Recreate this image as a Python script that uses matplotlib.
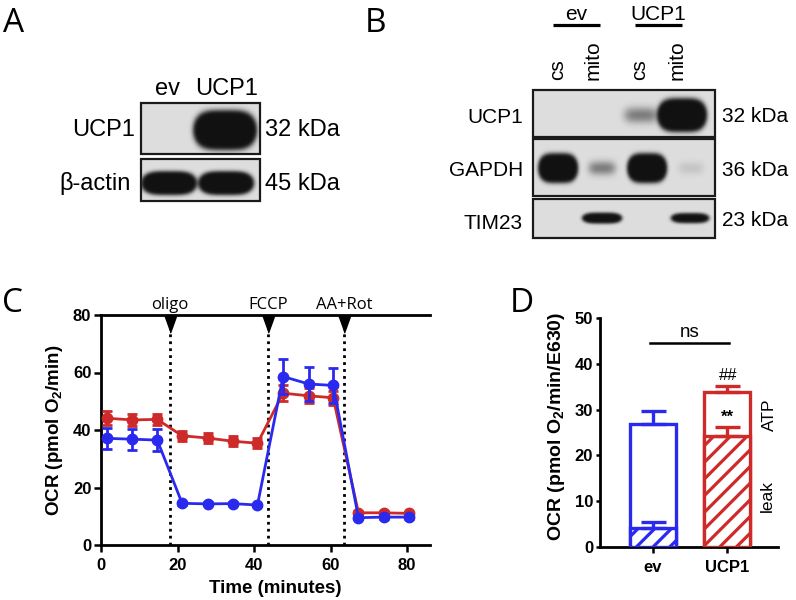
import numpy as np
import matplotlib
matplotlib.use('Agg')
import matplotlib.pyplot as plt
from matplotlib.patches import Rectangle

plt.rcParams['font.family'] = ['Liberation Sans', 'DejaVu Sans']
plt.rcParams['mathtext.fontset'] = 'custom'
plt.rcParams['mathtext.rm'] = 'Liberation Sans'
plt.rcParams['mathtext.bf'] = 'Liberation Sans:bold'
plt.rcParams['hatch.linewidth'] = 2.3

# blot band signals (relative, 1 = saturated)
a_lanes = ['ev', 'UCP1']
a_ucp1 = [0.0, 1.0]
a_actin = [1.0, 1.0]
b_groups = ['ev', 'UCP1']
b_lanes = ['cs', 'mito', 'cs', 'mito']
b_ucp1 = [0.0, 0.0, 0.003, 1.0]
b_gapdh = [1.0, 0.003, 1.0, 0.0006]
b_tim23 = [0.0, 1.0, 0.0, 0.4]

# panel C: OCR trace
time_min = [1.5, 8.2, 14.7, 21.2, 27.9, 34.4, 40.9, 47.6, 54.3, 60.7, 67.3, 73.9, 80.5]
ocr_ucp1 = [44.1, 43.5, 43.7, 38.0, 37.2, 36.1, 35.4, 52.8, 51.9, 51.2, 11.2, 11.2, 11.0]
err_ucp1 = [2.5, 2.0, 2.0, 1.8, 1.8, 1.8, 1.8, 2.8, 2.6, 2.5, 0.6, 0.6, 0.6]
ocr_ev = [37.1, 36.8, 36.5, 14.5, 14.3, 14.4, 13.9, 58.6, 56.0, 55.5, 9.5, 9.7, 9.7]
err_ev = [3.6, 3.6, 3.8, 0.6, 0.5, 0.5, 0.5, 6.0, 5.8, 6.0, 0.6, 0.5, 0.5]
injections = ['oligo', 'FCCP', 'AA+Rot']
inject_time = [18.1, 43.6, 63.5]

# panel D: leak / ATP-linked OCR
groups = ['ev', 'UCP1']
total_ocr = [26.8, 33.8]
total_err = [3.0, 1.4]
leak_ocr = [4.1, 24.3]
leak_err = [1.3, 1.8]

blue = '#2a2aef'
red = '#cf2a2a'
W, H = 796, 600

fig = plt.figure(figsize=(W / 100, H / 100), dpi=100)

# overlay in pixel coordinates for blots and labels
ov = fig.add_axes([0, 0, 1, 1])


def soften(img, sigma=2.0):
    # small gaussian blur so band edges look like film, not vector shapes
    k = np.arange(-3 * sigma, 3 * sigma + 0.5, 0.5)
    k = np.exp(-0.5 * (k / sigma) ** 2)
    k /= k.sum()
    pad = len(k) // 2
    p = np.pad(img, pad, mode='edge')
    p = np.apply_along_axis(lambda r: np.convolve(r, k, mode='same'), 0, p)
    p = np.apply_along_axis(lambda r: np.convolve(r, k, mode='same'), 1, p)
    return p[pad:-pad, pad:-pad]


def draw_blot(ax, box, lane_x, band_y, sx, sy, signals, gain=220):
    x0, y0, x1, y1 = box
    xs = np.arange(x0, x1, 0.5) + 0.25
    ys = np.arange(y0, y1, 0.5) + 0.25
    X, Y = np.meshgrid(xs, ys)
    dose = np.zeros_like(X)
    for cx, s in zip(lane_x, signals):
        dose += gain * s * np.exp(-0.5 * (np.abs(X - cx) / sx) ** 4) \
            * np.exp(-0.5 * ((Y - band_y) / sy) ** 2)
    dark = soften(1 - np.exp(-dose), 1.2)
    img = 0.87 - 0.8 * dark
    ax.imshow(img, cmap='gray', vmin=0, vmax=1, extent=(x0, x1, y1, y0),
              interpolation='bilinear', aspect='auto', zorder=1)
    ax.add_patch(Rectangle((x0, y0), x1 - x0, y1 - y0, fill=False,
                           ec='#1a1a1a', lw=1.6, zorder=2))


# panel A blots
draw_blot(ov, (141, 103, 260, 154), [168, 225], 130, 17.4, 5.9, a_ucp1)
draw_blot(ov, (141, 159, 260, 201), [169, 226], 183, 15.2, 3.5, a_actin)
# panel B blots
draw_blot(ov, (533, 90, 715, 137), [558, 600, 641, 682], 115, 13.6, 5.0, b_ucp1)
draw_blot(ov, (533, 139, 715, 196), [558, 602, 647, 691], 168, 10.9, 4.4, b_gapdh)
draw_blot(ov, (533, 199, 715, 238), [558, 602, 647, 690], 218, 10.9, 1.6, b_tim23)

ov.set_xlim(0, W)
ov.set_ylim(H, 0)
ov.axis('off')

letter_font = ['Open Sans', 'DejaVu Sans']
for lx, ly, s in [(3, 32, 'A'), (365, 32, 'B'), (2, 312, 'C'), (510, 312, 'D')]:
    ov.text(lx, ly, s, fontsize=24, family=letter_font, va='baseline', ha='left')

# panel A text
for lx, s in zip([167, 227], a_lanes):
    ov.text(lx, 95, s, fontsize=17, ha='center', va='baseline')
ov.text(135, 136.5, 'UCP1', fontsize=17, ha='right', va='baseline')
ov.text(131, 190, 'β-actin', fontsize=17, ha='right', va='baseline')
ov.text(265, 136.5, '32 kDa', fontsize=17, ha='left', va='baseline')
ov.text(265, 190, '45 kDa', fontsize=17, ha='left', va='baseline')

# panel B text
for gx, (l0, l1), s in zip([576, 658], [(553, 600), (635, 682)], b_groups):
    ov.text(gx, 20, s, fontsize=15, ha='center', va='baseline')
    ov.plot([l0, l1], [25, 25], color='k', lw=2.3, solid_capstyle='butt')
for lx, s in zip([558, 593, 640, 677], b_lanes):
    ov.text(lx, 80, s, fontsize=15, rotation=90, ha='center', va='bottom')
for ry, s in zip([123, 176, 229], ['UCP1', 'GAPDH', 'TIM23']):
    ov.text(523, ry, s, fontsize=15, ha='right', va='baseline')
for ry, s in zip([122, 176.5, 226], ['32 kDa', '36 kDa', '23 kDa']):
    ov.text(722, ry, s, fontsize=15, ha='left', va='baseline')

# panel C
axC = fig.add_axes([101 / W, 1 - 545 / H, 329 / W, 230 / H])
ebkw = dict(marker='o', ms=7.5, lw=2, elinewidth=2, capsize=3.5, capthick=2, clip_on=False)
axC.errorbar(time_min, ocr_ucp1, yerr=err_ucp1, color=red, zorder=3, **ebkw)
axC.errorbar(time_min, ocr_ev, yerr=err_ev, color=blue, zorder=4, **ebkw)
tri = [(-0.36, 0.5), (0.36, 0.5), (0, -0.5)]
for t, s in zip(inject_time, injections):
    axC.plot([t, t], [0, 76], color='k', lw=2, ls=(0, (1, 1.5)), zorder=2)
    axC.plot(t, 77, marker=tri, ms=12.5, color='k', clip_on=False, zorder=5)
    axC.text(t, 82.2, s, fontsize=12, family=letter_font, ha='center', va='baseline')
axC.set_xlim(0, 86)
axC.set_ylim(0, 80)
axC.set_xticks(range(0, 81, 20))
axC.set_yticks(range(0, 81, 20))
axC.spines['right'].set_visible(False)
for sp in ['left', 'bottom', 'top']:
    axC.spines[sp].set_linewidth(2)
axC.tick_params(direction='out', length=5, width=1.8, labelsize=12, pad=2)
axC.tick_params(axis='x', pad=4)
for lab in axC.get_xticklabels() + axC.get_yticklabels():
    lab.set_fontweight('bold')
axC.set_xlabel('Time (minutes)', fontsize=13.5, fontweight='bold', va='top')
axC.xaxis.set_label_coords(0.529, -0.152)
axC.set_ylabel(r'OCR (pmol O$_\mathbf{2}$/min)', fontsize=13.5, fontweight='bold')
axC.yaxis.set_label_coords(-0.109, 0.5)

# panel D
axD = fig.add_axes([600 / W, 1 - 547 / H, 178 / W, 229 / H])
x = np.arange(len(groups))
cols = [blue, red]
axD.bar(x, total_ocr, width=0.61, color='white', edgecolor=cols, linewidth=2.4, zorder=2)
axD.bar(x, leak_ocr, width=0.61, color='white', edgecolor=cols, hatch='//', linewidth=2.4, zorder=3)
for xi, t, te, lk, le, c in zip(x, total_ocr, total_err, leak_ocr, leak_err, cols):
    axD.errorbar(xi, t, yerr=[[0], [te]], color=c, capsize=9, elinewidth=2.4, capthick=2.4, zorder=4)
    axD.errorbar(xi, lk, yerr=[[0], [le]], color=c, capsize=9, elinewidth=2.4, capthick=2.4, zorder=4)
axD.plot([-0.04, 1.03], [44.5, 44.5], color='k', lw=1.8)
axD.text(0.5, 45.8, 'ns', fontsize=13.5, ha='center', va='baseline')
axD.text(1.02, 36.5, '##', fontsize=12, ha='center', va='baseline')
axD.text(1.0, 27.3, '**', fontsize=12, fontweight='bold', ha='center', va='baseline')
axD.text(1.58, 28.8, 'ATP', fontsize=12.5, rotation=90, ha='center', va='center', clip_on=False)
axD.text(1.545, 11.1, 'leak', fontsize=12.5, rotation=90, ha='center', va='center', clip_on=False)
axD.set_xlim(-0.716, 1.69)
axD.set_ylim(0, 50)
axD.set_yticks(range(0, 51, 10))
axD.set_xticks(x)
axD.set_xticklabels(groups)
for sp in ['right', 'top']:
    axD.spines[sp].set_visible(False)
for sp in ['left', 'bottom']:
    axD.spines[sp].set_linewidth(2)
axD.tick_params(direction='out', width=1.8, labelsize=12)
axD.tick_params(axis='y', length=3, pad=2)
axD.tick_params(axis='x', length=4.5, pad=5)
for lab in axD.get_xticklabels() + axD.get_yticklabels():
    lab.set_fontweight('bold')
axD.set_ylabel(r'OCR (pmol O$_\mathbf{2}$/min/E630)', fontsize=14, fontweight='bold')
axD.yaxis.set_label_coords(-0.185, 0.525)

fig.savefig('out.png', dpi=100)
